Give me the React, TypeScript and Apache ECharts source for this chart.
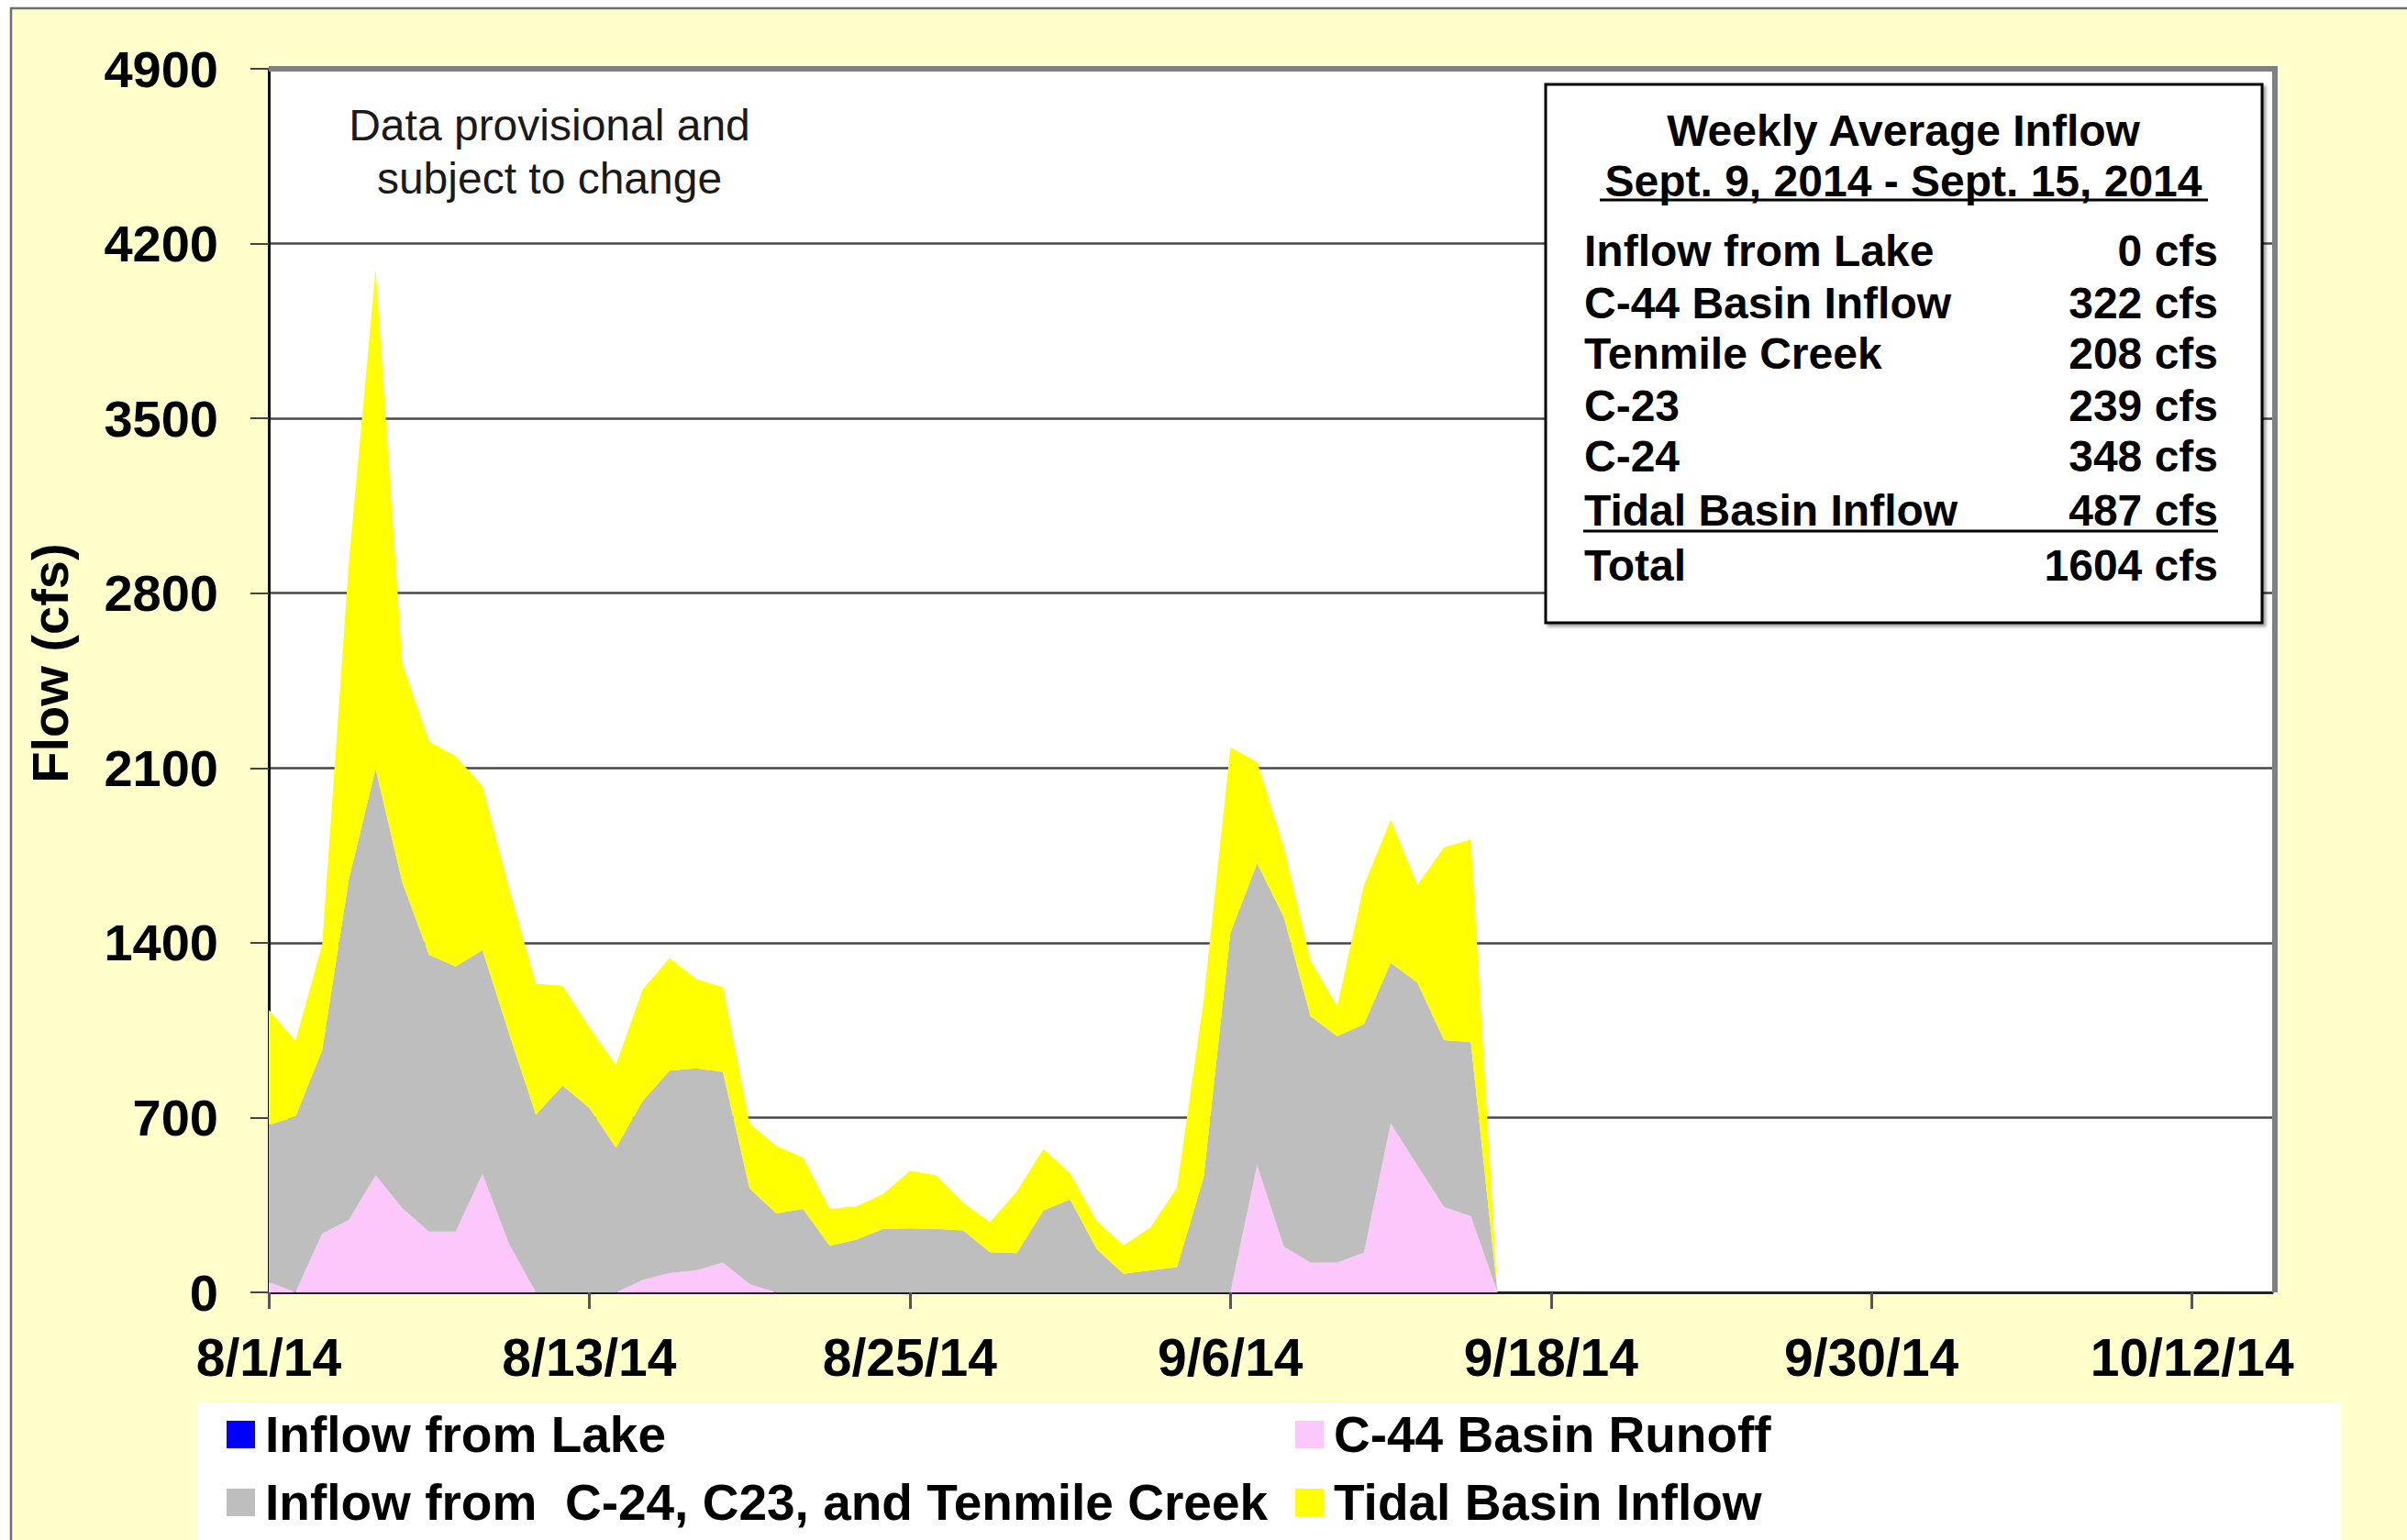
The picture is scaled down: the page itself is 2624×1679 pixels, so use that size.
import React, { useEffect, useRef } from 'react';
import * as echarts from 'echarts';

// ---------- data ----------
const START_UTC = Date.UTC(2014, 7, 1); // 8/1/14
const AXIS_DAYS = 76; // 8/1/14 .. 10/15/14
const dayLabels: string[] = [];
for (let i = 0; i < AXIS_DAYS; i++) {
  const d = new Date(START_UTC + i * 86400000);
  dayLabels.push(`${d.getUTCMonth() + 1}/${d.getUTCDate()}/${String(d.getUTCFullYear()).slice(2)}`);
}

const seriesNames = [
  'Inflow from Lake',
  'C-44 Basin Runoff',
  'Inflow from  C-24, C23, and Tenmile Creek',
  'Tidal Basin Inflow',
];

const lakeInflow = [
  0, 0, 0, 0, 0, 0, 0, 0, 0, 0,
  0, 0, 0, 0, 0, 0, 0, 0, 0, 0,
  0, 0, 0, 0, 0, 0, 0, 0, 0, 0,
  0, 0, 0, 0, 0, 0, 0,
  0, 0, 0, 0, 0, 0, 0, 0, 0, 0,
];

const c44Runoff = [
  41, 0, 235, 290, 469, 337, 243, 243, 475, 193,
  0, 0, 0, 0, 50, 77, 88, 119, 33, 0,
  0, 0, 0, 0, 0, 0, 0, 0, 0, 0,
  0, 0, 0, 0, 0, 0, 0,
  509, 183, 119, 119, 159, 676, 509, 342, 305, 0,
];

const creekInflow = [
  629, 704, 736, 1365, 1628, 1305, 1109, 1062, 896, 842,
  712, 828, 739, 579, 717, 811, 809, 764, 384, 316,
  334, 186, 211, 254, 256, 254, 248, 161, 157, 328,
  372, 173, 74, 88, 101, 461, 1440,
  1209, 1320, 987, 907, 915, 644, 732, 668, 697, 0,
];

const tidalInflow = [
  461, 303, 422, 1270, 2000, 874, 855, 842, 657, 579,
  524, 400, 323, 331, 447, 450, 358, 339, 259, 271,
  206, 148, 133, 140, 231, 214, 111, 120, 246, 246,
  105, 112, 114, 171, 318, 709, 743,
  406, 279, 222, 120, 557, 573, 390, 772, 812, 0,
];

const summaryTitle = 'Weekly Average Inflow';
const summaryPeriod = 'Sept. 9, 2014 - Sept. 15, 2014';
const summaryLabels = ['Inflow from Lake', 'C-44 Basin Inflow', 'Tenmile Creek', 'C-23', 'C-24', 'Tidal Basin Inflow', 'Total'];
const summaryValues = ['0 cfs', '322 cfs', '208 cfs', '239 cfs', '348 cfs', '487 cfs', '1604 cfs'];

const noteText = 'Data provisional and\nsubject to change';

// ---------- style / layout ----------
const FONT = '"Liberation Sans", Arial, Helvetica, sans-serif';
const W = 2624;
const H = 1679;
const G = { left: 293, top: 75, right: 2477, bottom: 1409 };
const COLORS = { lake: '#0000FF', c44: '#FCC8FC', creek: '#BEBEBE', tidal: '#FFFF00' };

const BOX = { x: 1685, y: 92, w: 781, h: 587 };
const ROW_Y = [273, 330, 385, 442, 497, 556, 616];

// legend slots: [series index, left, top]
const LEGEND_SLOTS: [number, number, number][] = [
  [0, 247, 1532],
  [2, 247, 1606],
  [1, 1412, 1532],
  [3, 1412, 1606],
];

function buildOption() {
  const every12 = (i: number) => i % 12 === 0;
  const mkSeries = (name: string, data: number[], color: string) => ({
    name,
    type: 'line',
    stack: 'flow',
    data,
    symbol: 'none',
    showSymbol: false,
    color,
    itemStyle: { color },
    lineStyle: { width: 0, color },
    areaStyle: { color, opacity: 1 },
    emphasis: { disabled: true },
    silent: true,
  });

  const legendText = { fontSize: 55, fontWeight: 'bold', color: '#000', fontFamily: FONT, lineHeight: 64, padding: [0, 0, 0, 6] };

  const graphic: any[] = [
    {
      type: 'rect', z: -10,
      shape: { x: 12, y: 9, width: W + 100, height: H + 100 },
      style: { fill: '#FFFFCC', stroke: '#6e6e6e', lineWidth: 2.5 },
    },
    {
      type: 'rect', z: -5,
      shape: { x: 216, y: 1530, width: 2336, height: 220 },
      style: { fill: '#ffffff' },
    },
    {
      type: 'line', z: 5,
      shape: { x1: G.left, y1: G.top, x2: G.right + 3, y2: G.top },
      style: { stroke: '#808080', lineWidth: 6 },
    },
    {
      type: 'line', z: 5,
      shape: { x1: G.right + 3, y1: G.top - 3, x2: G.right + 3, y2: G.bottom },
      style: { stroke: '#808080', lineWidth: 6 },
    },
    {
      type: 'text', z: 10, x: 599, y: 165,
      style: {
        text: noteText, fontFamily: FONT, fontSize: 48, fontWeight: 'normal', fill: '#1a1a1a',
        align: 'center', textAlign: 'center', verticalAlign: 'middle', textVerticalAlign: 'middle', lineHeight: 58,
      },
    },
    {
      type: 'rect', z: 10,
      shape: { x: BOX.x, y: BOX.y, width: BOX.w, height: BOX.h },
      style: {
        fill: '#ffffff', stroke: '#000000', lineWidth: 3,
        shadowColor: 'rgba(0,0,0,0.35)', shadowOffsetX: 3, shadowOffsetY: 3, shadowBlur: 3,
      },
    },
    {
      type: 'text', z: 11, x: 2075, y: 142,
      style: {
        text: summaryTitle, fontFamily: FONT, fontSize: 48, fontWeight: 'bold', fill: '#000',
        align: 'center', textAlign: 'center', verticalAlign: 'middle', textVerticalAlign: 'middle',
      },
    },
    {
      type: 'text', z: 11, x: 2075, y: 197,
      style: {
        text: summaryPeriod, fontFamily: FONT, fontSize: 48, fontWeight: 'bold', fill: '#000',
        align: 'center', textAlign: 'center', verticalAlign: 'middle', textVerticalAlign: 'middle',
      },
    },
    {
      type: 'line', z: 11,
      shape: { x1: 1744, y1: 218, x2: 2407, y2: 218 },
      style: { stroke: '#000', lineWidth: 3 },
    },
    {
      type: 'line', z: 11,
      shape: { x1: 1726, y1: 579, x2: 2418, y2: 579 },
      style: { stroke: '#000', lineWidth: 3 },
    },
  ];

  summaryLabels.forEach((lab, i) => {
    graphic.push({
      type: 'text', z: 11, x: 1727, y: ROW_Y[i],
      style: {
        text: lab, fontFamily: FONT, fontSize: 48, fontWeight: 'bold', fill: '#000',
        align: 'left', textAlign: 'left', verticalAlign: 'middle', textVerticalAlign: 'middle',
      },
    });
    graphic.push({
      type: 'text', z: 11, x: 2418, y: ROW_Y[i],
      style: {
        text: summaryValues[i], fontFamily: FONT, fontSize: 48, fontWeight: 'bold', fill: '#000',
        align: 'right', textAlign: 'right', verticalAlign: 'middle', textVerticalAlign: 'middle',
      },
    });
  });

  return {
    animation: false,
    backgroundColor: '#ffffff',
    textStyle: { fontFamily: FONT },
    grid: {
      left: G.left, top: G.top, width: G.right - G.left, height: G.bottom - G.top,
      show: true, backgroundColor: '#ffffff', borderWidth: 0,
    },
    xAxis: {
      type: 'category',
      data: dayLabels,
      boundaryGap: false,
      axisLine: { show: true, lineStyle: { color: '#222', width: 3 } },
      axisTick: { show: true, interval: every12, length: 18, lineStyle: { color: '#555', width: 3 } },
      axisLabel: { interval: every12, margin: 42, fontSize: 57, fontWeight: 'bold', color: '#000', fontFamily: FONT },
      splitLine: { show: false },
    },
    yAxis: {
      type: 'value',
      min: 0,
      max: 4900,
      interval: 700,
      name: 'Flow (cfs)',
      nameLocation: 'middle',
      nameGap: 211,
      nameRotate: 90,
      nameTextStyle: { fontSize: 56, fontWeight: 'bold', color: '#000', fontFamily: FONT, padding: [0, 0, 0, 38] },
      axisLine: { show: true, lineStyle: { color: '#111', width: 3 } },
      axisTick: { show: true, length: 20, lineStyle: { color: '#444', width: 2 } },
      axisLabel: {
        margin: 55, fontSize: 56, fontWeight: 'bold', color: '#000', fontFamily: FONT,
        formatter: (v: number) => String(v),
      },
      splitLine: { show: true, lineStyle: { color: '#474747', width: 2.5 } },
    },
    legend: LEGEND_SLOTS.map(([si, left, top]) => ({
      orient: 'horizontal', left, top,
      icon: 'rect', itemWidth: 31, itemHeight: 30, selectedMode: false,
      data: [seriesNames[si]],
      textStyle: legendText,
      itemStyle: { borderWidth: 0 },
      padding: 0,
    })),
    series: [
      mkSeries(seriesNames[0], lakeInflow, COLORS.lake),
      mkSeries(seriesNames[1], c44Runoff, COLORS.c44),
      mkSeries(seriesNames[2], creekInflow, COLORS.creek),
      mkSeries(seriesNames[3], tidalInflow, COLORS.tidal),
    ],
    graphic,
  };
}

export default function App() {
  const ref = useRef<HTMLDivElement>(null);
  useEffect(() => {
    if (!ref.current) return;
    const chart = echarts.init(ref.current, undefined, { renderer: 'svg' });
    chart.setOption(buildOption() as any);
    return () => chart.dispose();
  }, []);
  return (
    <div
      ref={ref}
      style={{ position: 'absolute', left: 0, top: 0, width: W, height: H, background: '#ffffff' }}
    />
  );
}
